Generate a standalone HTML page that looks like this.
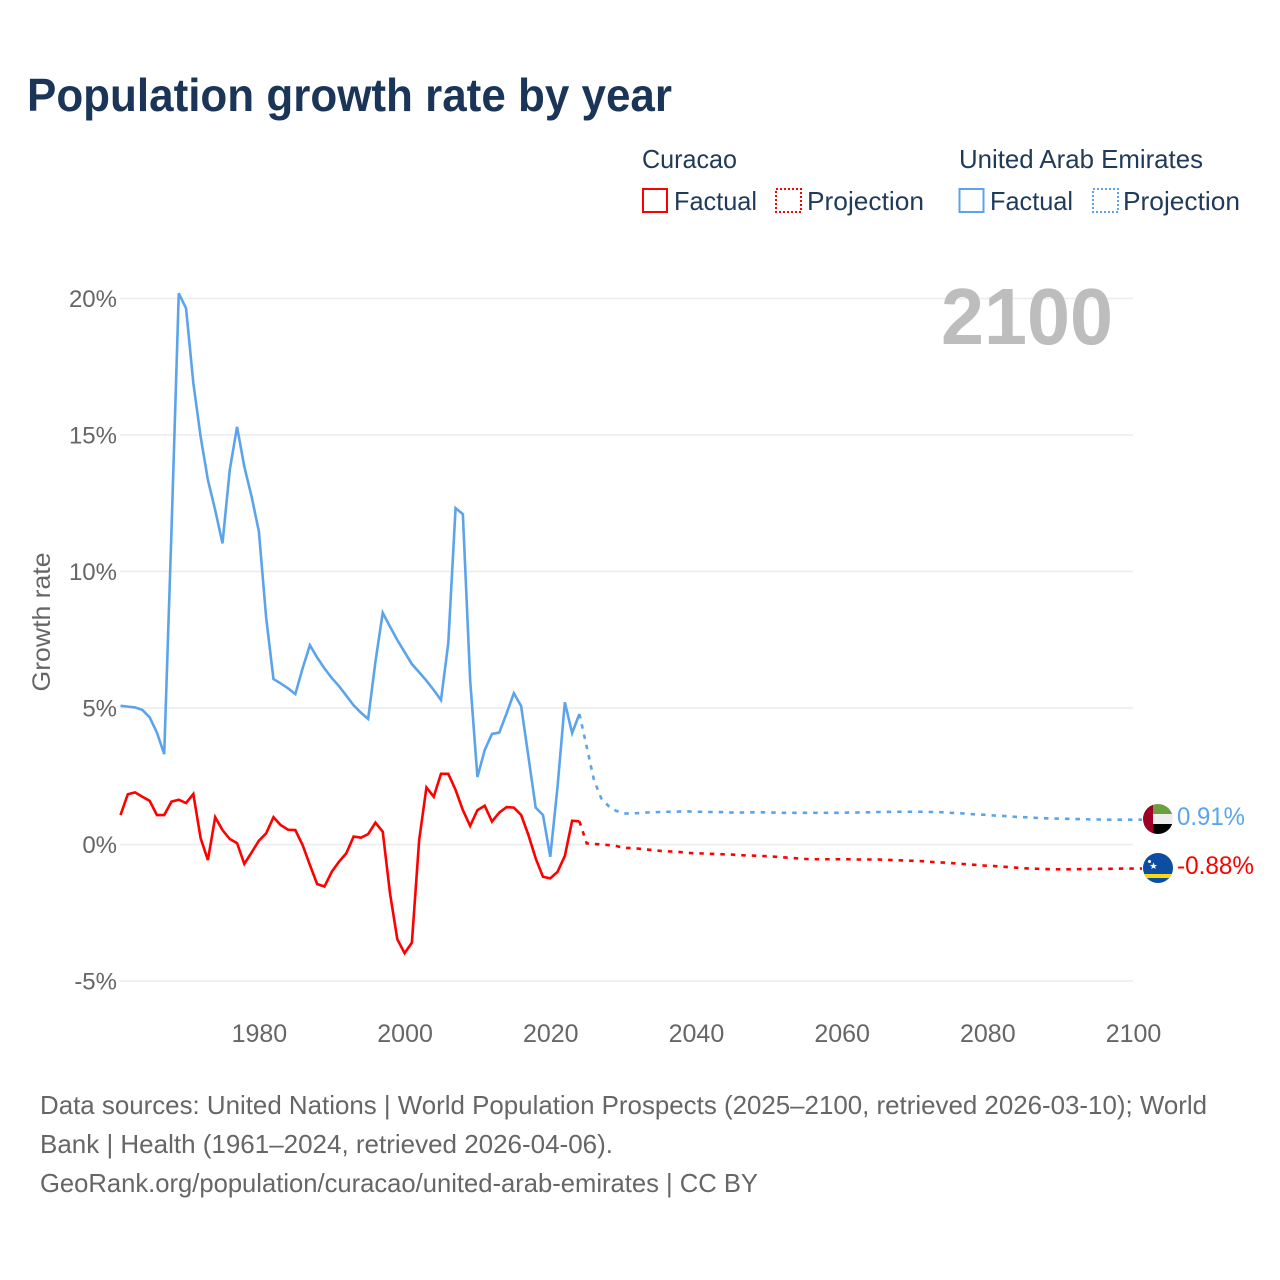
<!DOCTYPE html>
<html lang="en">
<head>
<meta charset="utf-8">
<title>Population growth rate by year</title>
<style>
html,body{margin:0;padding:0;background:#fff;}
svg{display:block;font-family:"Liberation Sans",sans-serif;}
</style>
</head>
<body>
<svg id="chart" width="1280" height="1280" viewBox="0 0 1280 1280" xmlns="http://www.w3.org/2000/svg">
  <defs>
    <clipPath id="flag-clip-a"><circle cx="1158" cy="819" r="15"/></clipPath>
    <clipPath id="flag-clip-b"><circle cx="1158" cy="868" r="15"/></clipPath>
  </defs>
  <rect width="1280" height="1280" fill="#fff"/>
  <text x="27" y="111" font-size="46" font-weight="700" fill="#1a3557" textLength="645" lengthAdjust="spacingAndGlyphs">Population growth rate by year</text>

  <g fill="#1f3a5a" font-size="26">
    <text x="642" y="168" textLength="95" lengthAdjust="spacingAndGlyphs">Curacao</text>
    <text x="959" y="168" textLength="244" lengthAdjust="spacingAndGlyphs">United Arab Emirates</text>
    <rect x="643" y="189" width="24" height="23" fill="none" stroke="#ff0000" stroke-width="2"/>
    <text x="674" y="210" textLength="83" lengthAdjust="spacingAndGlyphs">Factual</text>
    <rect x="776" y="189" width="25" height="23" fill="none" stroke="#ff0000" stroke-width="2" stroke-dasharray="2 2"/>
    <text x="807" y="210" textLength="117" lengthAdjust="spacingAndGlyphs">Projection</text>
    <rect x="959.5" y="189" width="24" height="23" fill="none" stroke="#5ba4ec" stroke-width="2"/>
    <text x="990" y="210" textLength="83" lengthAdjust="spacingAndGlyphs">Factual</text>
    <rect x="1093" y="189" width="25" height="23" fill="none" stroke="#5ba4ec" stroke-width="2" stroke-dasharray="2 2"/>
    <text x="1123" y="210" textLength="117" lengthAdjust="spacingAndGlyphs">Projection</text>
  </g>

  <g id="grid"></g>
  <g id="yticks"></g>
  <g id="xticks"></g>
  <text transform="translate(50,622) rotate(-90)" text-anchor="middle" font-size="25" fill="#666" textLength="139" lengthAdjust="spacingAndGlyphs">Growth rate</text>
  <text x="1113" y="344" text-anchor="end" font-size="80" font-weight="700" fill="#bdbdbd" textLength="172" lengthAdjust="spacingAndGlyphs">2100</text>
  <g id="series"></g>

  <g clip-path="url(#flag-clip-a)">
    <rect x="1143" y="804" width="30" height="10" fill="#6b9e3f"/>
    <rect x="1143" y="814" width="30" height="10" fill="#eeeeee"/>
    <rect x="1143" y="824" width="30" height="10" fill="#000000"/>
    <rect x="1143" y="804" width="10" height="30" fill="#9e0027"/>
  </g>
  <g clip-path="url(#flag-clip-b)">
    <rect x="1143" y="853" width="30" height="30" fill="#0b4ea2"/>
    <rect x="1143" y="874" width="30" height="4" fill="#f9d90f"/>
    <polygon points="1153.5,862.5 1154.5,865 1157,865 1155,866.6 1155.8,869 1153.5,867.6 1151.2,869 1152,866.6 1150,865 1152.5,865" fill="#fff"/>
    <circle cx="1149.5" cy="861.5" r="1.5" fill="#fff"/>
  </g>
  <text id="label-uae" x="1177" y="825" font-size="25" fill="#5ba4ec" textLength="68" lengthAdjust="spacingAndGlyphs"></text>
  <text id="label-cur" x="1177" y="874" font-size="25" fill="#ff0000" textLength="77" lengthAdjust="spacingAndGlyphs"></text>

  <g font-size="26" fill="#666">
    <text x="40" y="1114" textLength="1167" lengthAdjust="spacingAndGlyphs">Data sources: United Nations | World Population Prospects (2025–2100, retrieved 2026-03-10); World</text>
    <text x="40" y="1153" textLength="573" lengthAdjust="spacingAndGlyphs">Bank | Health (1961–2024, retrieved 2026-04-06).</text>
    <text x="40" y="1192" textLength="718" lengthAdjust="spacingAndGlyphs">GeoRank.org/population/curacao/united-arab-emirates | CC BY</text>
  </g>
</svg>
<script>
const factualStartYear = 1961;
const projectionStartYear = 2025;
const yTickValues = [20, 15, 10, 5, 0, -5];
const xTickYears = [1980, 2000, 2020, 2040, 2060, 2080, 2100];
const uaeFactual = [
  5.08,5.05,5.02,4.93,4.66,4.10,3.31,11.5,20.19,19.64,
  16.9,14.94,13.35,12.25,11.03,13.72,15.3,13.84,12.74,11.46,
  8.3,6.06,5.9,5.72,5.51,6.45,7.3,6.85,6.45,6.1,
  5.8,5.45,5.1,4.83,4.6,6.7,8.49,7.98,7.49,7.05,
  6.61,6.31,6.0,5.66,5.29,7.38,12.32,12.1,6.03,2.47,
  3.46,4.05,4.1,4.8,5.54,5.07,3.22,1.35,1.08,-0.45,
  2.12,5.21,4.08,4.78
];
const uaeProjection = [
  3.58,2.36,1.69,1.41,1.24,1.14,1.13,1.15,1.17,1.18,1.19,1.2,1.2,1.21,1.21,1.2,
  1.2,1.19,1.19,1.18,1.17,1.17,1.18,1.18,1.18,1.17,
  1.17,1.16,1.16,1.16,1.16,1.16,1.16,1.16,1.16,1.16,
  1.17,1.17,1.18,1.18,1.19,1.19,1.2,1.2,1.2,1.2,
  1.2,1.19,1.19,1.18,1.16,1.15,1.13,1.11,1.1,1.08,
  1.06,1.05,1.03,1.01,1.0,0.99,0.97,0.96,0.95,0.95,
  0.94,0.93,0.93,0.92,0.92,0.91,0.91,0.91,0.91,0.91
];
const curacaoFactual = [
  1.08,1.84,1.91,1.75,1.6,1.08,1.08,1.57,1.64,1.52,
  1.85,0.23,-0.57,1.0,0.53,0.2,0.05,-0.71,-0.29,0.14,
  0.41,1.0,0.71,0.54,0.53,-0.02,-0.75,-1.45,-1.54,-1.0,
  -0.63,-0.32,0.29,0.25,0.38,0.8,0.47,-1.79,-3.47,-3.98,
  -3.6,0.16,2.09,1.75,2.59,2.59,2.0,1.26,0.68,1.26,
  1.42,0.84,1.17,1.37,1.35,1.08,0.35,-0.51,-1.18,-1.24,
  -1.0,-0.42,0.87,0.85
];
const curacaoProjection = [
  0.04,0.02,0.0,-0.02,-0.05,-0.12,
  -0.13,-0.15,-0.18,-0.2,-0.23,-0.25,-0.26,-0.28,-0.31,-0.32,
  -0.33,-0.34,-0.35,-0.36,-0.37,-0.39,-0.4,-0.41,-0.42,-0.43,
  -0.45,-0.47,-0.49,-0.51,-0.53,-0.54,-0.54,-0.54,-0.54,-0.54,
  -0.54,-0.55,-0.55,-0.55,-0.55,-0.56,-0.57,-0.58,-0.59,-0.6,
  -0.61,-0.63,-0.65,-0.66,-0.68,-0.7,-0.72,-0.74,-0.76,-0.78,
  -0.79,-0.81,-0.83,-0.85,-0.87,-0.88,-0.89,-0.9,-0.91,-0.91,
  -0.91,-0.91,-0.9,-0.9,-0.89,-0.89,-0.89,-0.88,-0.88,-0.88
];
const uaeEndLabel = '0.91%';
const curacaoEndLabel = '-0.88%';

const NS = 'http://www.w3.org/2000/svg';
const BLUE = '#5ba4ec';
const RED = '#ff0000';
function xScale(year) { return 120.5 + (year - 1961) * (1133 - 120.5) / 139; }
function yScale(v) { return 844.5 - v * 27.3; }

const grid = document.getElementById('grid');
const yticks = document.getElementById('yticks');
yTickValues.forEach(function (v) {
  const ln = document.createElementNS(NS, 'line');
  
  
  ln.setAttribute('x1', 120);
  ln.setAttribute('x2', 1133);
  ln.setAttribute('y1', yScale(v));
  ln.setAttribute('y2', yScale(v));
  ln.setAttribute('stroke', '#ececec');
  ln.setAttribute('stroke-width', 1.5);
  grid.appendChild(ln);
  const t = document.createElementNS(NS, 'text');
  
  
  t.setAttribute('x', 117);
  t.setAttribute('y', yScale(v) + 8.5);
  t.setAttribute('text-anchor', 'end');
  t.setAttribute('font-size', 24);
  t.setAttribute('fill', '#666');
  t.textContent = v + '%';
  yticks.appendChild(t);
});

const xticks = document.getElementById('xticks');
xTickYears.forEach(function (yr) {
  const t = document.createElementNS(NS, 'text');
  
  
  t.setAttribute('x', xScale(yr) + 0.5);
  t.setAttribute('y', 1042);
  t.setAttribute('text-anchor', 'middle');
  t.setAttribute('font-size', 25);
  t.setAttribute('fill', '#666');
  t.textContent = yr;
  xticks.appendChild(t);
});

function linePath(startYear, values, prefix) {
  let d = prefix || '';
  values.forEach(function (v, i) {
    d += (d ? 'L' : 'M') + xScale(startYear + i).toFixed(2) + ' ' + yScale(v).toFixed(2);
  });
  return d;
}

const series = document.getElementById('series');
function addFactual(values, color, name) {
  const p = document.createElementNS(NS, 'path');
  
  
  p.setAttribute('d', linePath(factualStartYear, values));
  p.setAttribute('fill', 'none');
  p.setAttribute('stroke', color);
  p.setAttribute('stroke-width', 2.6);
  series.appendChild(p);
}
function addProjection(factual, values, color, name) {
  const last = factual[factual.length - 1];
  const start = 'M' + xScale(projectionStartYear - 1).toFixed(2) + ' ' + yScale(last).toFixed(2);
  const end = values[values.length - 1];
  const tail = 'L1142 ' + yScale(end).toFixed(2);
  const p = document.createElementNS(NS, 'path');
  
  
  p.setAttribute('d', linePath(projectionStartYear, values, start) + tail);
  p.setAttribute('fill', 'none');
  p.setAttribute('stroke', color);
  p.setAttribute('stroke-width', 2.6);
  p.setAttribute('stroke-dasharray', '4.5 6');
  series.appendChild(p);
}
addFactual(uaeFactual, BLUE, 'uae-factual-line');
addProjection(uaeFactual, uaeProjection, BLUE, 'uae-projection-line');
addFactual(curacaoFactual, RED, 'curacao-factual-line');
addProjection(curacaoFactual, curacaoProjection, RED, 'curacao-projection-line');

document.getElementById('label-uae').textContent = uaeEndLabel;
document.getElementById('label-cur').textContent = curacaoEndLabel;
</script>
</body>
</html>
